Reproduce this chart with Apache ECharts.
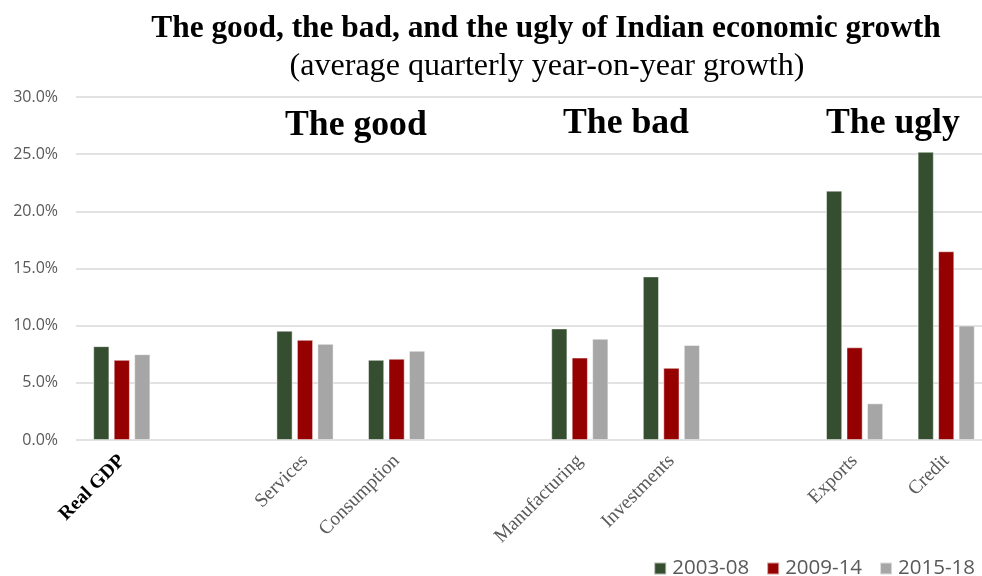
<!DOCTYPE html>
<html>
<head>
<meta charset="utf-8">
<script src="https://cdn.jsdelivr.net/npm/echarts@6/dist/echarts.min.js"></script>
<style>
  html, body { margin: 0; padding: 0; background: #fff; }
  #chart { width: 982px; height: 576px; }
</style>
</head>
<body>
<div id="chart"></div>
<script>
// Category slots; empty strings leave gaps between the three groups
const categories = ['Real GDP', '', 'Services', 'Consumption', '', 'Manufacturing', 'Investments', '', 'Exports', 'Credit'];
const seriesNames = ['2003-08', '2009-14', '2015-18'];
const growth0308 = [8.2, null, 9.55, 7.0, null, 9.75, 14.3, null, 21.8, 25.2];
const growth0914 = [7.0, null, 8.75, 7.1, null, 7.2, 6.3, null, 8.1, 16.5];
const growth1518 = [7.5, null, 8.4, 7.8, null, 8.85, 8.3, null, 3.2, 10.0];
const yTicks = [0, 5, 10, 15, 20, 25, 30];
const groupLabels = ['The good', 'The bad', 'The ugly'];

const colors = ['#344e2f', '#950000', '#a6a6a6'];
const serif = '"Liberation Serif", "DejaVu Serif", serif';
const sans = '"Open Sans", "Liberation Sans", sans-serif';

// Pick a font size so that a string spans a given pixel width
const measureCtx = document.createElement('canvas').getContext('2d');
function fitSize(text, family, weight, width) {
  measureCtx.font = weight + ' 100px ' + family;
  return Math.round(100 * width / measureCtx.measureText(text).width * 10) / 10;
}
const titleText = 'The good, the bad, and the ugly of Indian economic growth';
const subText = '(average quarterly year-on-year growth)';
const titleSize = fitSize(titleText, serif, 'bold', 790);
const subSize = fitSize(subText, serif, 'normal', 515);
const groupSize = fitSize(groupLabels[0], serif, 'bold', 142);
const catSize = fitSize('Manufacturing', serif, 'normal', 116);
const ySize = fitSize('30.0%', sans, 'normal', 45);
const legendSize = fitSize('2003-08', sans, 'normal', 77);

const chart = echarts.init(document.getElementById('chart'), null, { renderer: 'canvas' });

const seriesData = [growth0308, growth0914, growth1518];

chart.setOption({
  animation: false,
  backgroundColor: '#ffffff',
  title: [
    {
      text: titleText,
      left: 541, top: 8, textAlign: 'center',
      textStyle: { fontFamily: serif, fontWeight: 'bold', fontSize: titleSize, color: '#000' }
    },
    {
      text: subText,
      left: 542, top: 46, textAlign: 'center',
      textStyle: { fontFamily: serif, fontWeight: 'normal', fontSize: subSize, color: '#000' }
    }
  ],
  legend: {
    data: seriesNames,
    right: 2, bottom: -8,
    itemWidth: 12, itemHeight: 12, itemGap: 17,
    icon: 'rect',
    textStyle: { fontFamily: sans, fontSize: legendSize, color: '#595959', padding: [0, 0, 0, 1] }
  },
  grid: { left: 76, right: -10, top: 97, bottom: 136, containLabel: false, outerBoundsMode: 'none' },
  xAxis: {
    type: 'category',
    data: categories,
    axisLine: { show: false },
    axisTick: { show: false },
    axisLabel: {
      interval: 0, rotate: 45, margin: 18,
      fontFamily: serif, fontSize: catSize, color: '#595959',
      formatter: v => v === 'Real GDP' ? '{b|' + v + '}' : v,
      rich: { b: { fontFamily: serif, fontSize: catSize, fontWeight: 'bold', color: '#000' } }
    }
  },
  yAxis: {
    type: 'value',
    min: yTicks[0], max: yTicks[yTicks.length - 1], interval: 5,
    axisLine: { show: false },
    axisTick: { show: false },
    splitLine: { lineStyle: { color: '#d9d9d9', width: 1.5 } },
    axisLabel: {
      margin: 18, fontFamily: sans, fontSize: ySize, color: '#595959',
      formatter: v => v.toFixed(1) + '%'
    }
  },
  series: seriesData.map((d, i) => ({
    name: seriesNames[i],
    type: 'bar',
    data: d,
    barWidth: 16,
    barGap: '28%',
    itemStyle: { color: colors[i], borderColor: 'rgba(255,255,255,0.6)', borderWidth: 0.8 }
  })),
  graphic: [
    { type: 'text', left: 285, top: 108, style: { text: groupLabels[0], font: 'bold ' + groupSize + 'px ' + serif, fill: '#000' } },
    { type: 'text', left: 563, top: 106, style: { text: groupLabels[1], font: 'bold ' + groupSize + 'px ' + serif, fill: '#000' } },
    { type: 'text', left: 826, top: 106, style: { text: groupLabels[2], font: 'bold ' + groupSize + 'px ' + serif, fill: '#000' } }
  ]
});
</script>
</body>
</html>
